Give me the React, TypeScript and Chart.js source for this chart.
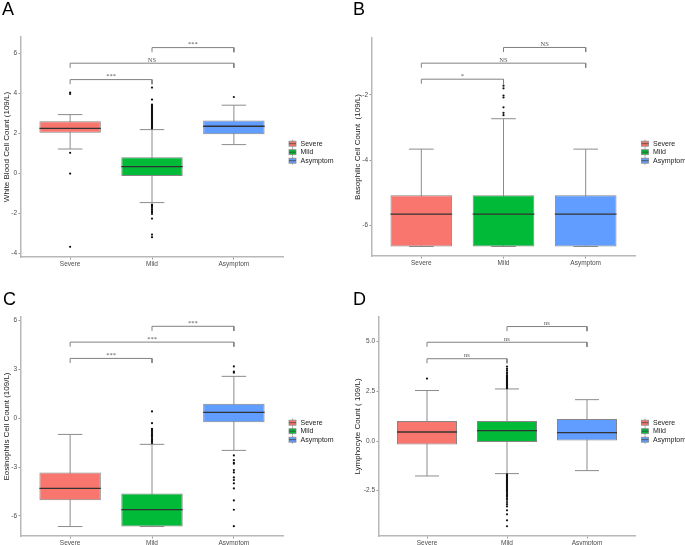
import React, { useEffect, useRef } from 'react';
import { Chart, registerables } from 'chart.js';

Chart.register(...registerables);

// ---------- shared ----------
const categories = ['Severe', 'Mild', 'Asymptom'];
const groupColors = ['#F8766D', '#00BA38', '#619CFF'];
const comparisonPairs = [[1, 2], [1, 3], [2, 3]];

// ---------- Panel A: White Blood Cell Count ----------
const wbcLow = [1.23, -1.45, 1.45];
const wbcQ1 = [2.04, -0.12, 1.97];
const wbcMedian = [2.26, 0.35, 2.37];
const wbcQ3 = [2.62, 0.82, 2.65];
const wbcHigh = [2.95, 2.2, 3.42];
const wbcOutSevere = [4.05, 3.98, 1.04, 0.0, -3.66];
const wbcOutMild = [2.26, 2.3, 2.34, 2.38, 2.42, 2.46, 2.5, 2.55, 2.6, 2.64, 2.68, 2.72, 2.77, 2.82, 2.86, 2.9, 2.95, 3.0, 3.05, 3.1, 3.15, 3.2, 3.25, 3.3, 3.35, 3.4, 3.45, 3.7, 4.3,
  -1.55, -1.6, -1.66, -1.72, -1.8, -1.88, -1.95, -2.02, -2.25, -3.05, -3.18];
const wbcOutAsym = [3.83];
const wbcTicks = [-4, -2, 0, 2, 4, 6];
const wbcRange = [-4.17, 6.83];
const wbcBracketY = [4.7, 5.52, 6.3];
const wbcSig = ['***', 'NS', '***'];

// ---------- Panel B: Basophilic Cell Count ----------
const basoLow = [-6.64, -6.64, -6.64];
const basoQ1 = [-6.64, -6.64, -6.64];
const basoMedian = [-5.65, -5.65, -5.65];
const basoQ3 = [-5.07, -5.07, -5.07];
const basoHigh = [-3.66, -2.73, -3.66];
const basoOutSevere: number[] = [];
const basoOutMild = [-1.72, -1.8, -2.02, -2.08, -2.38, -2.55, -2.62];
const basoOutAsym: number[] = [];
const basoTicks = [-6, -4, -2];
const basoRange = [-6.93, -0.26];
const basoBracketY = [-1.52, -1.03, -0.55];
const basoSig = ['*', 'NS', 'NS'];

// ---------- Panel C: Eosinophils Cell Count ----------
const eosLow = [-6.65, -6.65, -1.98];
const eosQ1 = [-5.03, -6.65, -0.26];
const eosMedian = [-4.31, -5.61, 0.35];
const eosQ3 = [-3.33, -4.62, 0.88];
const eosHigh = [-1.0, -1.61, 2.56];
const eosOutSevere: number[] = [];
const eosOutMild = [0.41, -0.31, -0.66, -0.72, -0.78, -0.85, -0.92, -1.0, -1.08, -1.15, -1.22, -1.3, -1.38, -1.46, -1.53];
const eosOutAsym = [3.17, 2.85, 2.78, -2.29, -2.58, -2.74, -2.8, -3.19, -3.33, -3.64, -3.8, -4.0, -4.31, -5.05, -5.62, -6.63];
const eosTicks = [-6, -3, 0, 3, 6];
const eosRange = [-7.23, 6.2];
const eosBracketY = [3.66, 4.66, 5.63];
const eosSig = ['***', '***', '***'];

// ---------- Panel D: Lymphocyte Count ----------
const lymLow = [-1.76, -1.64, -1.49];
const lymQ1 = [-0.17, -0.05, 0.0];
const lymMedian = [0.45, 0.52, 0.42];
const lymQ3 = [1.01, 1.01, 1.11];
const lymHigh = [2.54, 2.62, 2.08];
const lymOutSevere = [3.14];
const lymOutMild = [2.66, 2.7, 2.74, 2.78, 2.82, 2.86, 2.9, 2.94, 2.98, 3.02, 3.06, 3.1, 3.14, 3.18, 3.22, 3.26, 3.3, 3.38, 3.46, 3.55, 3.64, 3.75,
  -1.68, -1.72, -1.76, -1.8, -1.84, -1.88, -1.92, -1.96, -2.0, -2.04, -2.08, -2.12, -2.16, -2.2, -2.25, -2.3, -2.35, -2.4, -2.45, -2.5, -2.56, -2.62, -2.68, -2.74, -2.8, -2.88, -2.96, -3.07, -3.18, -3.29, -3.49, -3.69, -3.99, -4.29];
const lymOutAsym: number[] = [];
const lymTicks = [-2.5, 0, 2.5, 5];
const lymRange = [-4.78, 6.24];
const lymBracketY = [4.14, 4.97, 5.76];
const lymSig = ['ns', 'ns', 'ns'];

const panels = [
  {
    letter: 'A', title: 'White Blood Cell Count (109/L)',
    low: wbcLow, q1: wbcQ1, median: wbcMedian, q3: wbcQ3, high: wbcHigh,
    outliers: [wbcOutSevere, wbcOutMild, wbcOutAsym],
    ticks: wbcTicks, range: wbcRange, bracketY: wbcBracketY, sig: wbcSig, decimals: 0,
    layout: { left: 0, top: 0, w: 340, h: 270, pl: 21, pt: 37, pr: 283, pb: 257, titlePad: 2, lx: 2, ly: 15, gx: 289, gy: 143.7 },
  },
  {
    letter: 'B', title: 'Basophilic Cell Count  (109/L)',
    low: basoLow, q1: basoQ1, median: basoMedian, q3: basoQ3, high: basoHigh,
    outliers: [basoOutSevere, basoOutMild, basoOutAsym],
    ticks: basoTicks, range: basoRange, bracketY: basoBracketY, sig: basoSig, decimals: 0,
    layout: { left: 340, top: 0, w: 345, h: 270, pl: 32, pt: 38, pr: 295, pb: 256, titlePad: 13, lx: 13, ly: 15, gx: 301.5, gy: 143.7 },
  },
  {
    letter: 'C', title: 'Eosinophils Cell Count (109/L)',
    low: eosLow, q1: eosQ1, median: eosMedian, q3: eosQ3, high: eosHigh,
    outliers: [eosOutSevere, eosOutMild, eosOutAsym],
    ticks: eosTicks, range: eosRange, bracketY: eosBracketY, sig: eosSig, decimals: 0,
    layout: { left: 0, top: 270, w: 340, h: 275, pl: 21, pt: 47, pr: 283, pb: 266, titlePad: 2, lx: 3, ly: 35, gx: 289, gy: 152.7 },
  },
  {
    letter: 'D', title: 'Lymphocyte Count ( 109/L)',
    low: lymLow, q1: lymQ1, median: lymMedian, q3: lymQ3, high: lymHigh,
    outliers: [lymOutSevere, lymOutMild, lymOutAsym],
    ticks: lymTicks, range: lymRange, bracketY: lymBracketY, sig: lymSig, decimals: 1,
    layout: { left: 340, top: 270, w: 345, h: 275, pl: 39, pt: 47, pr: 295, pb: 266, titlePad: 13, lx: 13, ly: 35, gx: 301.5, gy: 152.7 },
  },
];

const BOX_HALF = 0.375;
const CAP_HALF = 0.15;
const FONT = '"Liberation Sans", Arial, sans-serif';

function makeDecor(p: any) {
  const L = p.layout;
  return {
    id: 'decor' + p.letter,
    afterDatasetsDraw(chart: any) {
      const { ctx } = chart;
      const xs = chart.scales.x;
      const ys = chart.scales.y;
      ctx.save();
      // significance labels
      ctx.fillStyle = '#555555';
      ctx.font = '6.5px "Liberation Serif", serif';
      ctx.textAlign = 'center';
      ctx.textBaseline = 'alphabetic';
      comparisonPairs.forEach(([a, b], k) => {
        const px = xs.getPixelForValue((a + b) / 2);
        const py = ys.getPixelForValue(p.bracketY[k]);
        ctx.fillText(p.sig[k], px, py - 1.5);
      });
      // panel letter
      ctx.fillStyle = '#000000';
      ctx.font = '18px ' + FONT;
      ctx.textAlign = 'left';
      ctx.fillText(p.letter, L.lx, L.ly);
      // legend
      categories.forEach((c, i) => {
        const cy = L.gy + i * 8.5;
        const kx = L.gx;
        ctx.strokeStyle = '#8a8a8a';
        ctx.lineWidth = 0.8;
        ctx.beginPath();
        ctx.moveTo(kx + 3.5, cy - 4);
        ctx.lineTo(kx + 3.5, cy + 4);
        ctx.stroke();
        ctx.fillStyle = groupColors[i];
        ctx.fillRect(kx, cy - 2.5, 7, 5);
        ctx.strokeRect(kx, cy - 2.5, 7, 5);
        ctx.strokeStyle = '#444';
        ctx.beginPath();
        ctx.moveTo(kx, cy);
        ctx.lineTo(kx + 7, cy);
        ctx.stroke();
        ctx.fillStyle = '#222222';
        ctx.font = '7px ' + FONT;
        ctx.textBaseline = 'middle';
        ctx.fillText(c, kx + 11.5, cy);
        ctx.textBaseline = 'alphabetic';
      });
      ctx.restore();
    },
  };
}

function buildConfig(p: any): any {
  const L = p.layout;
  const pos = [1, 2, 3];
  const boxData = pos.map((x, i) => ({ x, y: [p.q1[i], p.q3[i]] }));
  const whiskers: any[] = [];
  const caps: any[] = [];
  const medians: any[] = [];
  pos.forEach((x, i) => {
    whiskers.push({ x, y: p.low[i] }, { x, y: p.high[i] }, { x, y: null });
    caps.push(
      { x: x - CAP_HALF, y: p.high[i] }, { x: x + CAP_HALF, y: p.high[i] }, { x, y: null },
      { x: x - CAP_HALF, y: p.low[i] }, { x: x + CAP_HALF, y: p.low[i] }, { x, y: null },
    );
    medians.push({ x: x - BOX_HALF, y: p.median[i] }, { x: x + BOX_HALF, y: p.median[i] }, { x, y: null });
  });
  const outliers: any[] = [];
  p.outliers.forEach((arr: number[], i: number) => arr.forEach((v) => outliers.push({ x: i + 1, y: v })));
  const tip = (p.range[1] - p.range[0]) * 0.021;
  const brackets: any[] = [];
  comparisonPairs.forEach(([a, b], k) => {
    const h = p.bracketY[k];
    brackets.push({ x: a, y: h - tip }, { x: a, y: h }, { x: b, y: h }, { x: b, y: h - tip }, { x: a, y: null });
  });

  const lineDs = (data: any[], color: string, width: number, order: number) => ({
    type: 'line', data, borderColor: color, borderWidth: width, pointRadius: 0,
    fill: false, tension: 0, spanGaps: false, order, borderCapStyle: 'butt',
  });

  return {
    type: 'bar',
    data: {
      datasets: [
        lineDs(whiskers, '#8c8c8c', 1, 5),
        lineDs(caps, '#8c8c8c', 1, 4),
        {
          type: 'bar', data: boxData, backgroundColor: groupColors, borderColor: '#858585',
          borderWidth: 1, borderSkipped: false, barPercentage: 0.75, categoryPercentage: 1,
          grouped: false, order: 3,
        },
        lineDs(medians, '#333333', 1.4, 2),
        {
          type: 'scatter', data: outliers, backgroundColor: '#111111', borderWidth: 0,
          pointRadius: 1.1, order: 1,
        },
        lineDs(brackets, '#808080', 1, 0),
      ],
    },
    options: {
      responsive: false,
      animation: false,
      events: [],
      layout: { padding: { left: 0, top: L.pt, right: L.w - L.pr, bottom: 0 } },
      plugins: { legend: { display: false }, tooltip: { enabled: false } },
      scales: {
        x: {
          type: 'linear', min: 0.4, max: 3.6, offset: false,
          afterBuildTicks: (s: any) => { s.ticks = pos.map((v) => ({ value: v })); },
          afterFit: (s: any) => { s.height = L.h - L.pb; },
          ticks: {
            autoSkip: false, maxRotation: 0, padding: 0.5, color: '#4d4d4d',
            font: { family: FONT, size: 6.5 },
            callback: (v: any) => categories[Math.round(v) - 1] ?? '',
          },
          grid: { display: true, offset: false, drawOnChartArea: false, drawTicks: true, tickLength: 2.5, color: '#9a9a9a', lineWidth: 1 },
          border: { display: true, color: '#b8b8b8', width: 1.5 },
        },
        y: {
          type: 'linear', min: p.range[0], max: p.range[1], beginAtZero: false,
          afterBuildTicks: (s: any) => { s.ticks = p.ticks.map((v: number) => ({ value: v })); },
          afterFit: (s: any) => { s.width = L.pl; },
          ticks: {
            padding: 1.5, color: '#4d4d4d', font: { family: FONT, size: 6.5 },
            callback: (v: any) => Number(v).toFixed(p.decimals),
          },
          grid: { display: true, drawOnChartArea: false, drawTicks: true, tickLength: 2.5, color: '#9a9a9a', lineWidth: 1 },
          border: { display: true, color: '#b8b8b8', width: 1.5 },
          title: {
            display: true, text: p.title, color: '#222222',
            font: { family: FONT, size: 8 }, padding: { top: L.titlePad, bottom: 0 },
          },
        },
      },
    },
    plugins: [makeDecor(p)],
  };
}

function BoxPanel({ panel }: { panel: any }) {
  const ref = useRef<HTMLCanvasElement | null>(null);
  const L = panel.layout;
  useEffect(() => {
    if (!ref.current) return;
    const chart = new Chart(ref.current, buildConfig(panel));
    return () => chart.destroy();
  }, [panel]);
  return (
    <canvas
      ref={ref}
      width={L.w}
      height={L.h}
      style={{ position: 'absolute', left: L.left, top: L.top, width: L.w, height: L.h }}
    />
  );
}

export default function App() {
  return (
    <div style={{ position: 'absolute', left: 0, top: 0, width: 685, height: 545, background: '#ffffff', overflow: 'hidden' }}>
      {panels.map((p) => (
        <BoxPanel key={p.letter} panel={p} />
      ))}
    </div>
  );
}
